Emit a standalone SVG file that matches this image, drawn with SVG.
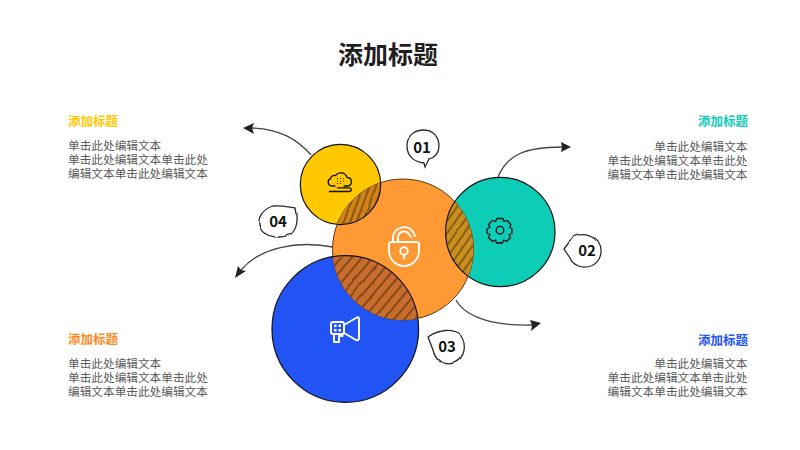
<svg xmlns="http://www.w3.org/2000/svg" width="800" height="450" viewBox="0 0 800 450">
<style>
text{font-family:"Liberation Sans","Noto Sans CJK SC",sans-serif}
.title{font-size:25px;font-weight:700;fill:#1f1f1f}
.h{font-size:12.500px;font-weight:700}
.b{font-size:11.670px;fill:#595959}
.n{font-size:15px;font-weight:700;fill:#111;text-anchor:middle;font-family:"Noto Sans CJK SC",sans-serif}
.r{text-anchor:end}
.c{stroke:#111;stroke-width:1.200}
.con{fill:none;stroke:#444;stroke-width:1.300}
.bub{fill:#fff;stroke:#2a2a2a;stroke-width:1.300}
.iw{fill:none;stroke:#fff;stroke-width:1.900;stroke-linejoin:round;stroke-linecap:round}
.ik{fill:none;stroke:#111;stroke-width:1.300;stroke-linejoin:round;stroke-linecap:round}
.ar{fill:#222}
</style>
<defs>
<filter id="w" x="-10%" y="-10%" width="120%" height="120%"><feTurbulence type="fractalNoise" baseFrequency="0.06" numOctaves="2" seed="4"/><feDisplacementMap in="SourceGraphic" scale="2.500" xChannelSelector="R" yChannelSelector="G"/></filter>
<pattern id="h1" width="6" height="6" patternUnits="userSpaceOnUse" patternTransform="rotate(20)"><path d="M3 0V6" stroke="#3a2408" stroke-width=".9"/></pattern>
<pattern id="h2" width="7" height="7" patternUnits="userSpaceOnUse" patternTransform="rotate(35)"><path d="M3 0V7" stroke="#3a2408" stroke-width=".9"/></pattern>
<pattern id="h3" width="8" height="8" patternUnits="userSpaceOnUse" patternTransform="rotate(40)"><path d="M3 0V8" stroke="#3a1c08" stroke-width=".9"/></pattern>
<clipPath id="co"><circle cx="403" cy="249.500" r="70.500"/></clipPath>
</defs>
<text class="title" x="388" y="64" text-anchor="middle">添加标题</text>
<g id="connectors">
<path class="con" d="M311 155C297 139 280 129 252 128"/><path class="ar" d="M243 128L254 123L252 128L254 134Z"/>
<path class="con" d="M498 177C507 155 525 147 562 147"/><path class="ar" d="M571 147L561 142L562 147L561 152Z"/>
<path class="con" d="M456 300C466 318 495 326 532 325"/><path class="ar" d="M541 323L530 320L532 325L531 331Z"/>
<path class="con" d="M333 247C296 240 260 248 241 270"/><path class="ar" d="M235 278L238 266L241 270L246 271Z"/>
</g>
<g id="node-yellow"><circle class="c" cx="340.500" cy="184.500" r="40.200" fill="#ffc800"/>
<g class="ik"><path d="M335 186h-3a3.800 3.800 0 0 1-1.500-7.300 4 4 0 0 1 5-3.200 6.500 6.500 0 0 1 11.500 2 4.300 4.300 0 0 1 1 8.500h-4"/><path d="M329.500 191.500h20a1.800 1.800 0 0 0 0-3.600h-12"/></g>
<g fill="#111"><circle cx="337.500" cy="178.500" r=".6"/><circle cx="340.500" cy="178.500" r=".6"/><circle cx="343.500" cy="178.500" r=".6"/><circle cx="337.500" cy="181" r=".6"/><circle cx="340.500" cy="181" r=".6"/><circle cx="343.500" cy="181" r=".6"/><circle cx="337.500" cy="183.500" r=".6"/><circle cx="340.500" cy="183.500" r=".6"/></g></g>
<g id="node-teal"><circle class="c" cx="500.300" cy="232" r="54.700" fill="#0dcdb7"/>
<g class="ik"><circle cx="500" cy="230.200" r="3.800"/><path d="M497 218.500h6l1 3 3-1 4 4-1.500 3 2.500 1v5l-3 1 1.500 3-4 4-3-1.500-1 3h-6l-1-3-3 1.500-4-4 1.500-3-3-1v-5l3-1-1.500-3 4-4 3 1z"/></g></g>
<g id="node-blue"><circle class="c" cx="345.300" cy="329" r="73.300" fill="#2153f5"/>
<g class="iw"><rect x="331" y="322" width="13" height="12" rx="2"/><path d="M344 325L356 318Q359 316 359 319V338Q359 341 356 340L344 333"/><path d="M334 334v8h5v-8"/><path d="M339 336h3.500v-2"/></g>
<g fill="#fff"><rect x="334" y="324.500" width="2.500" height="2.500"/><rect x="338.500" y="324.500" width="2.500" height="2.500"/><rect x="334" y="329" width="2.500" height="2.500"/><rect x="338.500" y="329" width="2.500" height="2.500"/></g></g>
<g id="node-orange"><circle cx="403" cy="249.500" r="70.500" fill="#ff9933" stroke="#5a3a10" stroke-width="1"/>
<g clip-path="url(#co)">
<circle cx="340.500" cy="184.500" r="40.200" fill="#cf8318"/><circle cx="340.500" cy="184.500" r="40.200" fill="none" stroke="#111" stroke-width="1.200"/>
<circle cx="500.300" cy="232" r="54.700" fill="#c98f20"/><circle cx="500.300" cy="232" r="54.700" fill="none" stroke="#111" stroke-width="1.200"/>
<circle cx="345.300" cy="329" r="73.300" fill="#c76e2e"/><circle cx="345.300" cy="329" r="73.300" fill="none" stroke="#111" stroke-width="1.200"/>
<g filter="url(#w)"><circle cx="340.500" cy="184.500" r="40" fill="url(#h1)"/><circle cx="500.300" cy="232" r="54.500" fill="url(#h2)"/><circle cx="345.300" cy="329" r="73" fill="url(#h3)"/></g>
</g>
<g class="iw"><path d="M393 242v-5a11 11 0 0 1 20-5l2 4"/><path d="M398 242v-5a6 6 0 0 1 10.500-3.500l2.500 3.500"/><path d="M389 244.500q0-2.500 2.500-2.500h25q2.500 0 2.500 2.500V251a15 15 0 0 1-30 0z"/><circle cx="404" cy="251" r="3.800"/><path d="M404 254.800v3.700"/></g></g>
<g id="badge-01"><path class="bub" filter="url(#w)" d="M424 163C414 162 407 156 407 146C407 135 415 130 424 130C433 130 439 137 439 146C439 153 436 157 429 159L425 167Z"/><text class="n" x="422" y="153">01</text></g>
<g id="badge-02"><path class="bub" filter="url(#w)" d="M564 249L573 237C580 233 592 234 598 241C604 250 601 262 591 266C581 269 573 265 570 258Z"/><text class="n" x="587" y="256">02</text></g>
<g id="badge-03"><path class="bub" filter="url(#w)" d="M428 337C438 330 453 327 461 336C467 345 465 358 454 363C443 366 435 360 433 350Z"/><text class="n" x="447" y="352">03</text></g>
<g id="badge-04"><path class="bub" filter="url(#w)" d="M296 208C298 218 298 228 291 234C281 239 265 238 260 228C256 218 263 209 273 206C281 205 288 207 296 208Z"/><text class="n" x="278" y="227">04</text></g>
<g id="text-tl"><text class="h" x="68" y="126" fill="#ffc800">添加标题</text><text class="b"><tspan x="68" y="150">单击此处编辑文本</tspan><tspan x="68" y="164">单击此处编辑文本单击此处</tspan><tspan x="68" y="178">编辑文本单击此处编辑文本</tspan></text></g>
<g id="text-tr"><text class="h r" x="748" y="126" fill="#0dcdb7">添加标题</text><text class="b r"><tspan x="747.500" y="151">单击此处编辑文本</tspan><tspan x="747.500" y="165">单击此处编辑文本单击此处</tspan><tspan x="747.500" y="179">编辑文本单击此处编辑文本</tspan></text></g>
<g id="text-bl"><text class="h" x="68" y="344" fill="#ff8a1f">添加标题</text><text class="b"><tspan x="68" y="368">单击此处编辑文本</tspan><tspan x="68" y="382">单击此处编辑文本单击此处</tspan><tspan x="68" y="396">编辑文本单击此处编辑文本</tspan></text></g>
<g id="text-br"><text class="h r" x="748" y="345" fill="#2153f5">添加标题</text><text class="b r"><tspan x="747.500" y="368">单击此处编辑文本</tspan><tspan x="747.500" y="382">单击此处编辑文本单击此处</tspan><tspan x="747.500" y="396">编辑文本单击此处编辑文本</tspan></text></g>
</svg>
